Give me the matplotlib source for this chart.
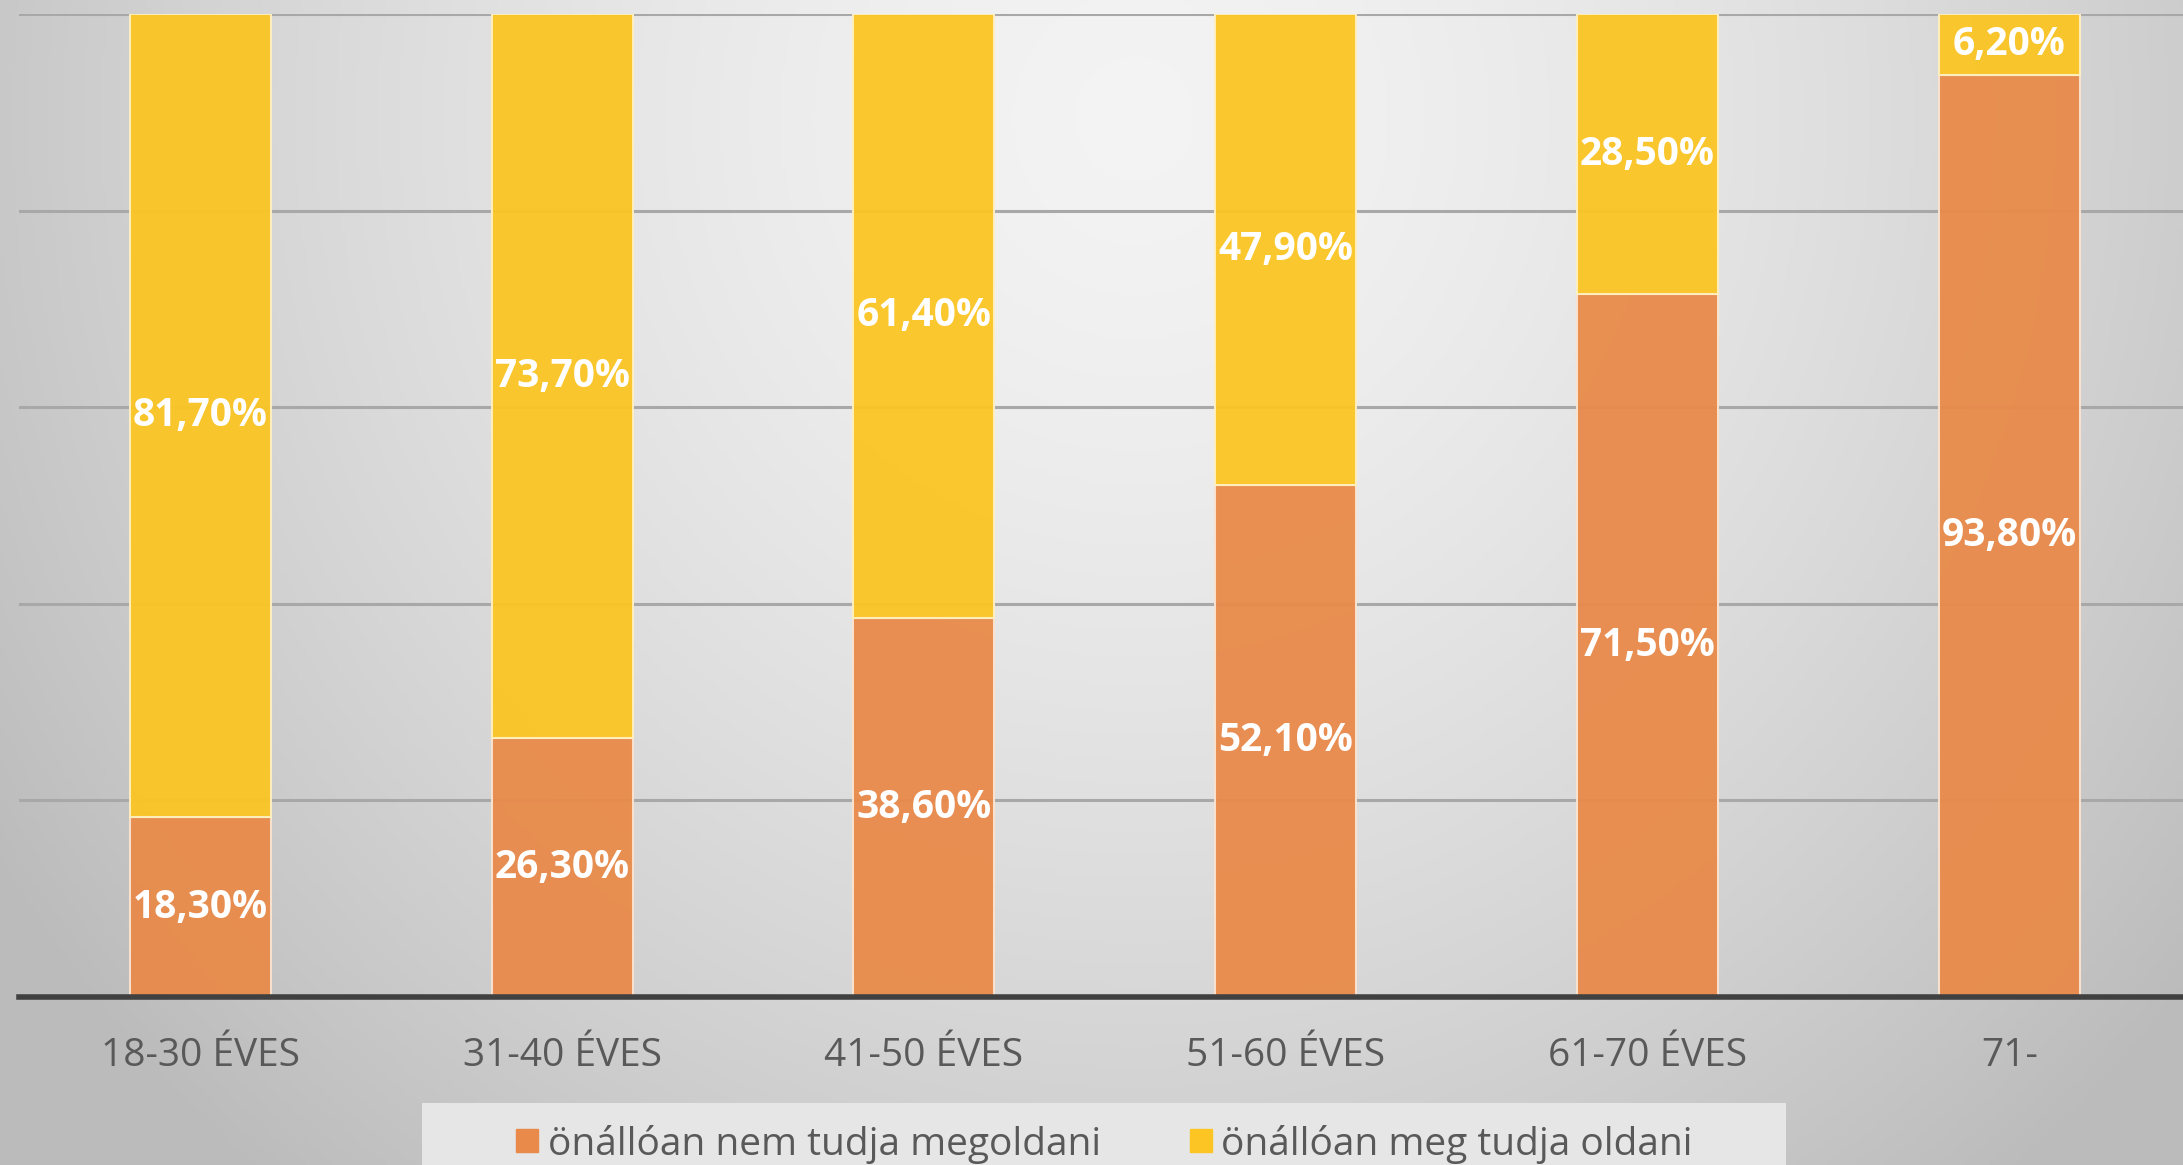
import numpy as np
import matplotlib.pyplot as plt
from matplotlib.patches import Patch, Rectangle

# data
categories = ['18-30 ÉVES', '31-40 ÉVES', '41-50 ÉVES', '51-60 ÉVES', '61-70 ÉVES', '71-']
nem_tudja = [18.3, 26.3, 38.6, 52.1, 71.5, 93.8]
meg_tudja = [81.7, 73.7, 61.4, 47.9, 28.5, 6.2]
series_names = ['önállóan nem tudja megoldani', 'önállóan meg tudja oldani']

c_orange = '#E98A4A'
c_yellow = '#FCC524'

plt.rcParams['font.family'] = ['Open Sans', 'DejaVu Sans']

fig = plt.figure(figsize=(21.83, 11.65), dpi=100)

# gradient background
bg = fig.add_axes([0, 0, 1, 1], zorder=-10)
yy, xx = np.mgrid[0:1:300j, 0:1:600j]
r = np.sqrt(((xx - 0.52) / 0.62) ** 2 + ((yy - 0.1) / 1.2) ** 2)
shade = 0.955 - 0.22 * np.clip(r, 0, 1) ** 1.5
bg.imshow(np.dstack([shade] * 3), extent=[0, 1, 0, 1], aspect='auto', origin='upper')
bg.add_patch(Rectangle((0.1933, 0), 0.6249, 0.0532, transform=bg.transAxes,
                       facecolor='#E6E6E6', edgecolor='none', zorder=2))
bg.set_xlim(0, 1)
bg.set_ylim(0, 1)
bg.axis('off')

ax = fig.add_axes([0.0089, 0.1442, 0.9911, 0.8438])
ax.patch.set_alpha(0)

x = np.arange(len(categories))
w = 0.39
b1 = ax.bar(x, nem_tudja, w, color=c_orange, edgecolor='#FBE3D0', linewidth=1.5, alpha=0.95, zorder=3)
b2 = ax.bar(x, meg_tudja, w, bottom=nem_tudja, color=c_yellow, edgecolor='#FFF0C0',
            linewidth=1.5, alpha=0.95, zorder=3)

for i in range(len(categories)):
    ax.text(x[i], nem_tudja[i] / 2, f'{nem_tudja[i]:.2f}%'.replace('.', ','),
            ha='center', va='center', color='white', fontsize=28, fontweight='bold', zorder=5)
    ax.text(x[i], nem_tudja[i] + meg_tudja[i] / 2, f'{meg_tudja[i]:.2f}%'.replace('.', ','),
            ha='center', va='center', color='white', fontsize=28, fontweight='bold', zorder=5)

ax.set_xlim(-0.5, 5.48)
ax.set_ylim(0, 100)
ax.set_yticks([0, 20, 40, 60, 80, 100])
ax.set_yticklabels([])
ax.yaxis.grid(True, color='#A8A8A8', linewidth=2.2, zorder=0)
ax.set_axisbelow(True)
for s in ['top', 'right', 'left']:
    ax.spines[s].set_visible(False)
ax.spines['bottom'].set_color('#404040')
ax.spines['bottom'].set_linewidth(4)
ax.spines['bottom'].set_zorder(6)
ax.tick_params(axis='y', length=0)
ax.tick_params(axis='x', length=0, pad=29, labelsize=28, labelcolor='#595959')
ax.set_xticks(x)
ax.set_xticklabels(categories)

handles = [Patch(color=c_orange), Patch(color=c_yellow)]
leg = fig.legend(handles, series_names, loc='center', bbox_to_anchor=(0.506, 0.018),
                 ncol=2, frameon=False, fontsize=28, handlelength=0.55, handleheight=0.55,
                 handletextpad=0.25, columnspacing=2.3, borderpad=0, borderaxespad=0,
                 labelcolor='#595959')

fig.savefig('out.png', dpi=100)
